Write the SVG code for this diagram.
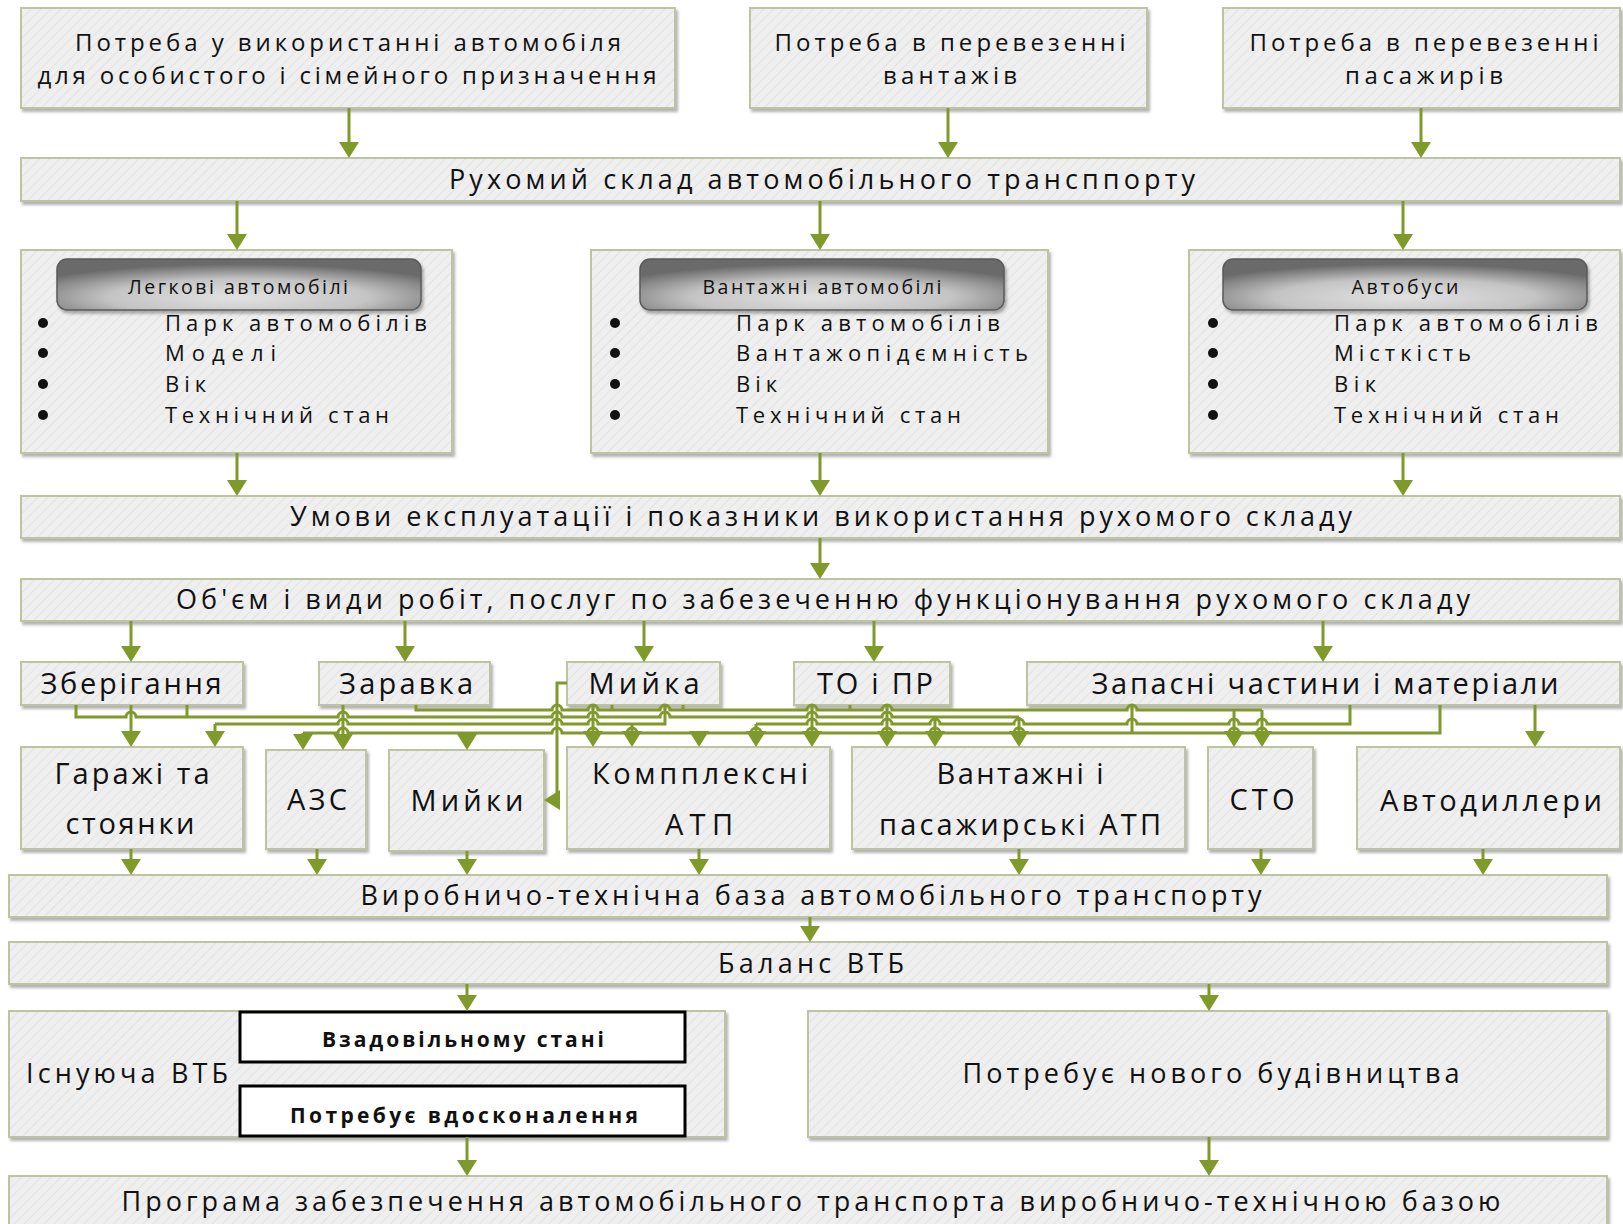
<svg xmlns="http://www.w3.org/2000/svg" width="1623" height="1224" viewBox="0 0 1623 1224">
<defs>
<pattern id="hatch" patternUnits="userSpaceOnUse" width="7" height="7" patternTransform="rotate(45)">
<rect width="7" height="7" fill="#efefef"/>
<line x1="0" y1="0" x2="0" y2="7" stroke="#e3e3e3" stroke-width="2"/>
</pattern>
<filter id="sh" x="-5%" y="-10%" width="110%" height="130%">
<feDropShadow dx="2" dy="3" stdDeviation="1.5" flood-color="#000" flood-opacity="0.3"/>
</filter>
<radialGradient id="pill" cx="0.5" cy="0.75" r="0.65">
<stop offset="0" stop-color="#e2e2e2"/>
<stop offset="0.55" stop-color="#c4c4c4"/>
<stop offset="1" stop-color="#6a6a6a"/>
</radialGradient>
<marker id="ah" markerUnits="userSpaceOnUse" markerWidth="16" markerHeight="20" viewBox="0 0 16 20" refX="13" refY="10" orient="auto">
<path d="M0,0 L16,10 L0,20 z" fill="#7f9a2b"/>
</marker>
<style>
.box{fill:url(#hatch);stroke:#bcc59f;stroke-width:2;filter:url(#sh);}
.pill{fill:url(#pill);stroke:#5a5a5a;stroke-width:1.5;filter:url(#sh);}
.wb{fill:#fff;stroke:#000;stroke-width:3;}
.t{font-family:"Open Sans","Liberation Sans",sans-serif;fill:#111;text-anchor:middle;}
.l{font-family:"Open Sans","Liberation Sans",sans-serif;fill:#111;text-anchor:start;}
.s23{font-size:24px;}
.s24{font-size:27px;}
.s26{font-size:29px;}
.s22{font-size:22px;}
.s18{font-size:19.5px;}
.b{font-weight:bold;font-size:21px;}
.c{stroke:#7f9a2b;stroke-width:3;fill:none;}
.a{marker-end:url(#ah);}
</style>
</defs>

<g id="n-need-personal"><rect class="box" x="21" y="8" width="654" height="100"/>
<text class="t s23" x="348" y="51" textLength="546" lengthAdjust="spacing">Потреба у використанні автомобіля</text>
<text class="t s23" x="347" y="84" textLength="619" lengthAdjust="spacing">для особистого і сімейного призначення</text></g>
<g id="n-need-cargo"><rect class="box" x="750" y="8" width="397" height="100"/>
<text class="t s23" x="950" y="51" textLength="351" lengthAdjust="spacing">Потреба в перевезенні</text>
<text class="t s23" x="950" y="84" textLength="134" lengthAdjust="spacing">вантажів</text></g>
<g id="n-need-pass"><rect class="box" x="1223" y="8" width="397" height="100"/>
<text class="t s23" x="1424" y="51" textLength="349" lengthAdjust="spacing">Потреба в перевезенні</text>
<text class="t s23" x="1424" y="84" textLength="158" lengthAdjust="spacing">пасажирів</text></g>

<g id="n-rolling"><rect class="box" x="21" y="158" width="1599" height="43"/>
<text class="t s24" x="822" y="189" textLength="746" lengthAdjust="spacing">Рухомий склад автомобільного трансппорту</text></g>

<g id="n-cars"><rect class="box" x="21" y="250" width="431" height="203"/>
<rect class="pill" x="57" y="259" width="364" height="51" rx="10"/>
<text class="t s18" x="238" y="294" textLength="220" lengthAdjust="spacing">Легкові автомобілі</text>
<circle cx="43" cy="323" r="5" fill="#111"/><circle cx="43" cy="353" r="5" fill="#111"/><circle cx="43" cy="384" r="5" fill="#111"/><circle cx="43" cy="415" r="5" fill="#111"/>
<text class="l s22" x="165" y="331" textLength="262" lengthAdjust="spacing">Парк автомобілів</text>
<text class="l s22" x="165" y="361" textLength="111" lengthAdjust="spacing">Моделі</text>
<text class="l s22" x="165" y="392" textLength="41" lengthAdjust="spacing">Вік</text>
<text class="l s22" x="165" y="423" textLength="224" lengthAdjust="spacing">Технічний стан</text></g>

<g id="n-trucks"><rect class="box" x="591" y="250" width="457" height="203"/>
<rect class="pill" x="640" y="259" width="364" height="51" rx="10"/>
<text class="t s18" x="822" y="294" textLength="239" lengthAdjust="spacing">Вантажні автомобілі</text>
<circle cx="615" cy="323" r="5" fill="#111"/><circle cx="615" cy="353" r="5" fill="#111"/><circle cx="615" cy="384" r="5" fill="#111"/><circle cx="615" cy="415" r="5" fill="#111"/>
<text class="l s22" x="736" y="331" textLength="264" lengthAdjust="spacing">Парк автомобілів</text>
<text class="l s22" x="736" y="361" textLength="292" lengthAdjust="spacing">Вантажопідємність</text>
<text class="l s22" x="736" y="392" textLength="41" lengthAdjust="spacing">Вік</text>
<text class="l s22" x="736" y="423" textLength="225" lengthAdjust="spacing">Технічний стан</text></g>

<g id="n-buses"><rect class="box" x="1189" y="250" width="431" height="203"/>
<rect class="pill" x="1223" y="259" width="364" height="51" rx="10"/>
<text class="t s18" x="1405" y="294" textLength="107" lengthAdjust="spacing">Автобуси</text>
<circle cx="1213" cy="323" r="5" fill="#111"/><circle cx="1213" cy="353" r="5" fill="#111"/><circle cx="1213" cy="384" r="5" fill="#111"/><circle cx="1213" cy="415" r="5" fill="#111"/>
<text class="l s22" x="1334" y="331" textLength="264" lengthAdjust="spacing">Парк автомобілів</text>
<text class="l s22" x="1334" y="361" textLength="137" lengthAdjust="spacing">Місткість</text>
<text class="l s22" x="1334" y="392" textLength="42" lengthAdjust="spacing">Вік</text>
<text class="l s22" x="1334" y="423" textLength="225" lengthAdjust="spacing">Технічний стан</text></g>

<g id="n-conditions"><rect class="box" x="21" y="496" width="1599" height="42"/>
<text class="t s24" x="821" y="526" textLength="1062" lengthAdjust="spacing">Умови експлуатації і показники використання рухомого складу</text></g>

<g id="n-volume"><rect class="box" x="21" y="579" width="1599" height="42"/>
<text class="t s24" x="823" y="609" textLength="1294" lengthAdjust="spacing">Об'єм і види робіт, послуг по забезеченню функціонування рухомого складу</text></g>

<g id="n-storage"><rect class="box" x="21" y="662" width="222" height="43"/>
<text class="t s26" x="131" y="694" textLength="181" lengthAdjust="spacing">Зберігання</text></g>
<g id="n-fuel"><rect class="box" x="319" y="662" width="171" height="43"/>
<text class="t s26" x="406" y="694" textLength="134" lengthAdjust="spacing">Заравка</text></g>
<g id="n-wash"><rect class="box" x="567" y="662" width="153" height="43"/>
<text class="t s26" x="644" y="694" textLength="111" lengthAdjust="spacing">Мийка</text></g>
<g id="n-to"><rect class="box" x="794" y="662" width="156" height="43"/>
<text class="t s26" x="875" y="694" textLength="116" lengthAdjust="spacing">ТО і ПР</text></g>
<g id="n-parts"><rect class="box" x="1027" y="662" width="593" height="43"/>
<text class="t s26" x="1325" y="694" textLength="467" lengthAdjust="spacing">Запасні частини і матеріали</text></g>

<g id="n-garages"><rect class="box" x="21" y="747" width="222" height="102"/>
<text class="t s26" x="132" y="784" textLength="155" lengthAdjust="spacing">Гаражі та</text>
<text class="t s26" x="130" y="834" textLength="129" lengthAdjust="spacing">стоянки</text></g>
<g id="n-azs"><rect class="box" x="266" y="750" width="100" height="99"/>
<text class="t s26" x="317" y="810" textLength="60" lengthAdjust="spacing">АЗС</text></g>
<g id="n-washes"><rect class="box" x="389" y="750" width="155" height="101"/>
<text class="t s26" x="467" y="811" textLength="113" lengthAdjust="spacing">Мийки</text></g>
<g id="n-complex"><rect class="box" x="567" y="747" width="263" height="102"/>
<text class="t s26" x="700" y="784" textLength="216" lengthAdjust="spacing">Компплексні</text>
<text class="t s26" x="699" y="835" textLength="68" lengthAdjust="spacing">АТП</text></g>
<g id="n-cargoatp"><rect class="box" x="852" y="747" width="333" height="102"/>
<text class="t s26" x="1020" y="784" textLength="167" lengthAdjust="spacing">Вантажні і</text>
<text class="t s26" x="1020" y="835" textLength="282" lengthAdjust="spacing">пасажирські АТП</text></g>
<g id="n-sto"><rect class="box" x="1208" y="747" width="105" height="102"/>
<text class="t s26" x="1262" y="810" textLength="65" lengthAdjust="spacing">СТО</text></g>
<g id="n-dealers"><rect class="box" x="1357" y="747" width="263" height="102"/>
<text class="t s26" x="1491" y="811" textLength="222" lengthAdjust="spacing">Автодиллери</text></g>

<g id="n-base"><rect class="box" x="9" y="875" width="1598" height="42"/>
<text class="t s24" x="811" y="905" textLength="901" lengthAdjust="spacing">Виробничо-технічна база автомобільного транспорту</text></g>
<g id="n-balance"><rect class="box" x="9" y="942" width="1598" height="42"/>
<text class="t s24" x="811" y="973" textLength="186" lengthAdjust="spacing">Баланс ВТБ</text></g>

<g id="n-existing"><rect class="box" x="9" y="1011" width="716" height="126"/>
<text class="l s24" x="26" y="1083" textLength="202" lengthAdjust="spacing">Існуюча ВТБ</text>
<rect class="wb" x="240" y="1012" width="445" height="50"/>
<text class="t b" x="463" y="1047" textLength="282" lengthAdjust="spacing">Взадовільному стані</text>
<rect class="wb" x="240" y="1086" width="445" height="50"/>
<text class="t b" x="464" y="1123" textLength="348" lengthAdjust="spacing">Потребує вдосконалення</text></g>
<g id="n-new"><rect class="box" x="808" y="1011" width="799" height="126"/>
<text class="t s24" x="1211" y="1083" textLength="497" lengthAdjust="spacing">Потребує нового будівництва</text></g>

<g id="n-program"><rect class="box" x="9" y="1176" width="1598" height="54"/>
<text class="t s24" x="811" y="1211" textLength="1379" lengthAdjust="spacing">Програма забезпечення автомобільного транспорта виробничо-технічною базою</text></g>

<g id="connectors" class="c">
<path class="a" d="M349,108 V155"/><path class="a" d="M948,108 V155"/><path class="a" d="M1421,108 V155"/>
<path class="a" d="M237,201 V247"/><path class="a" d="M820,201 V247"/><path class="a" d="M1403,201 V247"/>
<path class="a" d="M237,453 V493"/><path class="a" d="M820,453 V493"/><path class="a" d="M1403,453 V493"/>
<path class="a" d="M820,538 V576"/>
<path class="a" d="M131,621 V659"/><path class="a" d="M405,621 V659"/><path class="a" d="M644,621 V659"/><path class="a" d="M874,621 V659"/><path class="a" d="M1323,621 V659"/>

<path d="M416,705 V710 H552 a5,5 0 0 1 10,0 H588 a5,5 0 0 1 10,0 H660 a5,5 0 0 1 10,0 H807 a5,5 0 0 1 10,0 H882 a5,5 0 0 1 10,0 H1127 a5,5 0 0 1 10,0 H1262"/>
<path d="M612,705 V710 M683,705 V710 M850,705 V710"/>
<path class="a" d="M1234,710 V744"/><path class="a" d="M1262,710 V744"/>

<path d="M76,705 V717 H126 a5,5 0 0 1 10,0 H338 a5,5 0 0 1 10,0 H552 a5,5 0 0 1 10,0 H588 a5,5 0 0 1 10,0 H660 a5,5 0 0 1 10,0 H807 a5,5 0 0 1 10,0 H882 a5,5 0 0 1 10,0 H1019"/>
<path d="M187,705 V717"/>
<path class="a" d="M935,717 V744"/><path class="a" d="M1019,717 V744"/>

<path d="M215,724 H338 a5,5 0 0 1 10,0 H552 a5,5 0 0 1 10,0 H588 a5,5 0 0 1 10,0 H665 V705"/>
<path class="a" d="M215,724 V744"/><path class="a" d="M632,724 V744"/>

<path d="M756,724 H807 a5,5 0 0 1 10,0 H882 a5,5 0 0 1 10,0 H930 a5,5 0 0 1 10,0 H1014 a5,5 0 0 1 10,0 H1127 a5,5 0 0 1 10,0 H1229 a5,5 0 0 1 10,0 H1257 a5,5 0 0 1 10,0 H1350 V705"/>
<path class="a" d="M756,724 V744"/>

<path d="M303,733 H338 a5,5 0 0 1 10,0 H552 a5,5 0 0 1 10,0 H588 a5,5 0 0 1 10,0 H627 a5,5 0 0 1 10,0 H751 a5,5 0 0 1 10,0 H807 a5,5 0 0 1 10,0 H882 a5,5 0 0 1 10,0 H930 a5,5 0 0 1 10,0 H1014 a5,5 0 0 1 10,0 H1229 a5,5 0 0 1 10,0 H1257 a5,5 0 0 1 10,0 H1440 V705"/>
<path d="M1132,705 V733"/>
<path class="a" d="M303,733 V747"/><path class="a" d="M467,733 V747"/><path class="a" d="M699,733 V744"/>

<path class="a" d="M131,705 V744"/><path class="a" d="M343,705 V747"/><path class="a" d="M593,705 V744"/><path class="a" d="M812,705 V744"/><path class="a" d="M887,705 V744"/><path class="a" d="M1535,705 V744"/>
<path class="a" d="M567,683 H557 V800 H547"/>

<path class="a" d="M131,849 V872"/><path class="a" d="M317,849 V872"/><path class="a" d="M467,851 V872"/><path class="a" d="M699,849 V872"/><path class="a" d="M1019,849 V872"/><path class="a" d="M1261,849 V872"/><path class="a" d="M1483,849 V872"/>
<path class="a" d="M810,917 V939"/>
<path class="a" d="M467,984 V1008"/><path class="a" d="M1209,984 V1008"/>
<path class="a" d="M467,1137 V1173"/><path class="a" d="M1209,1137 V1173"/>
</g>
</svg>
